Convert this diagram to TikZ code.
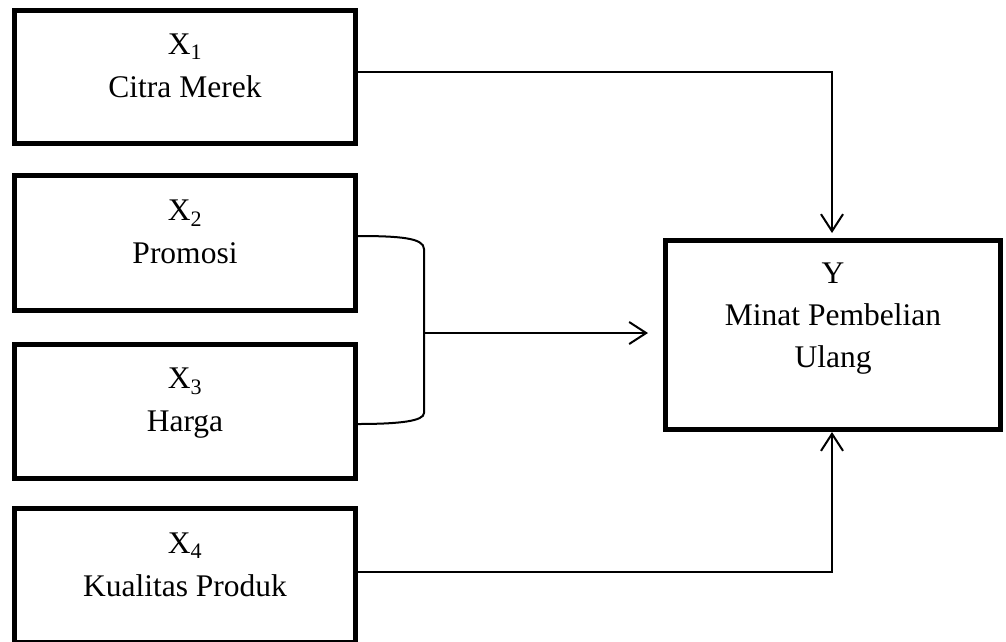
\documentclass[tikz,border=0pt]{standalone}
\usepackage{fontspec}
\setmainfont{Liberation Serif}
\usetikzlibrary{arrows.meta}
\begin{document}
\begin{tikzpicture}[x=1pt,y=-1pt,
  box/.style={draw=black, line width=5pt, fill=white, inner sep=0pt},
  txt/.style={anchor=base, inner sep=0pt, font=\fontsize{31.5}{40}\selectfont},
  conn/.style={draw=black, line width=2pt},
  arr/.style={conn, -{Straight Barb[length=17pt, width=22pt, line width=2pt]}}]
\useasboundingbox (0,0) rectangle (1006,641);
% boxes
\node[box, minimum width=341pt, minimum height=133pt] (b1) at (185,77) {};
\node[box, minimum width=341pt, minimum height=135pt] (b2) at (185,243) {};
\node[box, minimum width=341pt, minimum height=134pt] (b3) at (185,411.5) {};
\node[box, minimum width=341pt, minimum height=134pt] (b4) at (185,575.5) {};
\node[box, minimum width=335pt, minimum height=189pt] (y) at (833,335) {};
% texts
\node[txt] (t1a) at (185,54) {X\textsubscript{1}};
\node[txt] (t1b) at (185,97) {Citra Merek};
\node[txt] (t2a) at (185,220) {X\textsubscript{2}};
\node[txt] (t2b) at (185,263) {Promosi};
\node[txt] (t3a) at (185,388) {X\textsubscript{3}};
\node[txt] (t3b) at (185,431) {Harga};
\node[txt] (t4a) at (185,553) {X\textsubscript{4}};
\node[txt] (t4b) at (185,596) {Kualitas Produk};
\node[txt] (tya) at (833,283) {Y};
\node[txt] (tyb) at (833,325) {Minat Pembelian};
\node[txt] (tyc) at (833,367) {Ulang};
% connectors
\coordinate (c1) at (832,72);
\coordinate (c4) at (832,572);
\coordinate (bt) at (357,236);
\coordinate (bb) at (357,424);
\coordinate (bm) at (424,333);
\coordinate (tip) at (648,333);
\draw[arr, shorten >=5pt] (b1.east |- c1) -- (c1) -- (c1 |- y.north);
\draw[arr] (b4.east |- c4) -- (c4) -- (c4 |- y.south);
\draw[conn] (bt) .. controls (400,236) and (424,238) .. (424,249)
  -- (424,413) .. controls (424,421) and (400,424) .. (bb);
\draw[arr] (bm) -- (tip);
\end{tikzpicture}
\end{document}
